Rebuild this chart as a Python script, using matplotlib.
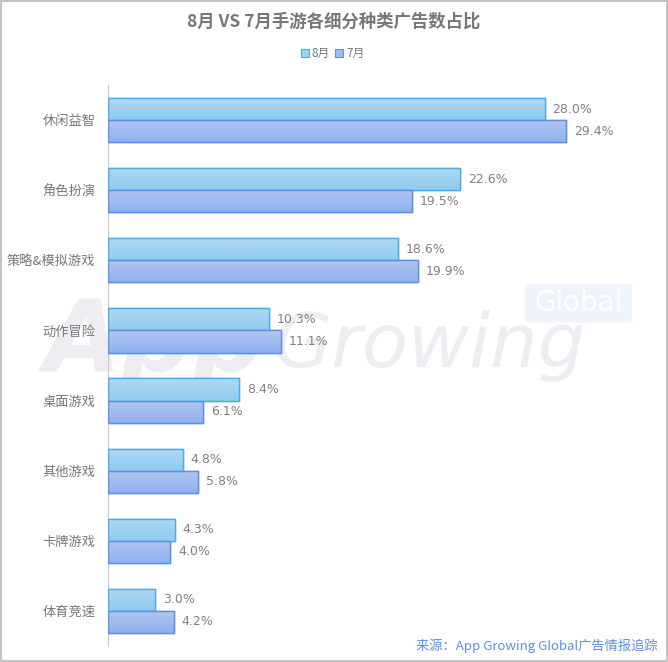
import numpy as np
import matplotlib
matplotlib.use('Agg')
import matplotlib.pyplot as plt
from matplotlib.colors import LinearSegmentedColormap
from matplotlib.patches import FancyBboxPatch, Rectangle

plt.rcParams['font.family'] = ['Noto Sans CJK SC', 'DejaVu Sans']

categories = ['休闲益智', '角色扮演', '策略&模拟游戏', '动作冒险', '桌面游戏', '其他游戏', '卡牌游戏', '体育竞速']
aug = [28.0, 22.6, 18.6, 10.3, 8.4, 4.8, 4.3, 3.0]
jul = [29.4, 19.5, 19.9, 11.1, 6.1, 5.8, 4.0, 4.2]

fig = plt.figure(figsize=(6.68, 6.62), dpi=100)
ax = fig.add_axes([0.1617, 0.0242, 0.817, 0.8474])
ax.set_zorder(2)
ax.set_facecolor('none')

# watermark, behind the bars
wm = '#eeeef2'
fig.text(0.065, 0.44, 'App', fontsize=72, fontweight='bold', style='italic',
         color=wm, zorder=0, family='DejaVu Sans')
fig.text(0.41, 0.445, 'Growing', fontsize=54, style='italic',
         color=wm, zorder=0, family='DejaVu Sans')
fig.patches.append(FancyBboxPatch((0.79, 0.517), 0.152, 0.05,
                                  boxstyle='round,pad=0.004', transform=fig.transFigure,
                                  fc='#eff4fc', ec='none', zorder=0))
fig.text(0.866, 0.542, 'Global', fontsize=20, color='white', ha='center', va='center',
         zorder=0.5, family='DejaVu Sans')

y = np.arange(len(categories))
h = 0.315

cm_aug = LinearSegmentedColormap.from_list('a', ['#b0d9f1', '#8ecbef'])
cm_jul = LinearSegmentedColormap.from_list('j', ['#b3c6f1', '#8fb0ef'])
grad = np.linspace(0, 1, 50).reshape(-1, 1)

b1 = ax.barh(y - h / 2, aug, height=h, color='#9ed2f0', edgecolor='#4fa9e2', linewidth=1, zorder=2)
b2 = ax.barh(y + h / 2, jul, height=h, color='#a0bbf0', edgecolor='#5a8fe3', linewidth=1, zorder=2)

for bars, cm in [(b1, cm_aug), (b2, cm_jul)]:
    for bar in bars:
        x0, y0 = bar.get_x(), bar.get_y()
        w, hh = bar.get_width(), bar.get_height()
        im = ax.imshow(grad, cmap=cm, aspect='auto', extent=(x0, x0 + w, y0, y0 + hh),
                       origin='lower', zorder=2.5)
        im.set_clip_path(bar)
        edge = Rectangle((x0, y0), w, hh, fill=False, ec=bar.get_edgecolor(), lw=1, zorder=3)
        ax.add_patch(edge)

for i in range(len(categories)):
    ax.text(aug[i] + 0.5, y[i] - h / 2, '%.1f%%' % aug[i], va='center', ha='left',
            fontsize=9, color='#808080', family='DejaVu Sans')
    ax.text(jul[i] + 0.5, y[i] + h / 2, '%.1f%%' % jul[i], va='center', ha='left',
            fontsize=9, color='#808080', family='DejaVu Sans')

ax.set_xlim(0, 35)
ax.set_ylim(len(categories) - 0.5, -0.5)
ax.set_yticks(y)
ax.set_yticklabels(categories, fontsize=9.5, color='#777777')
ax.tick_params(axis='y', length=0, pad=9)
ax.set_xticks([])
for s in ['top', 'right', 'bottom']:
    ax.spines[s].set_visible(False)
ax.spines['left'].set_color('#c8c8c8')

fig.text(0.5, 0.967, '8月 VS 7月手游各细分种类广告数占比', ha='center', va='center',
         fontsize=12.5, fontweight='bold', color='#777777')

# legend
fig.patches.append(Rectangle((0.451, 0.914), 0.012, 0.012, transform=fig.transFigure,
                             fc='#9ed2f0', ec='#4fa9e2', lw=0.8))
fig.text(0.467, 0.920, '8月', fontsize=8.5, color='#777777', va='center')
fig.patches.append(Rectangle((0.502, 0.914), 0.012, 0.012, transform=fig.transFigure,
                             fc='#a0bbf0', ec='#5a8fe3', lw=0.8))
fig.text(0.518, 0.920, '7月', fontsize=8.5, color='#777777', va='center')

fig.text(0.985, 0.024, '来源：App Growing Global广告情报追踪', ha='right', va='center',
         fontsize=9.5, color='#5b8fe3', zorder=5)

fig.patches.append(Rectangle((0.001, 0.001), 0.998, 0.997, transform=fig.transFigure,
                             fill=False, ec='#c4c4c4', lw=1.5, zorder=6))

fig.savefig('out.png', dpi=100)
